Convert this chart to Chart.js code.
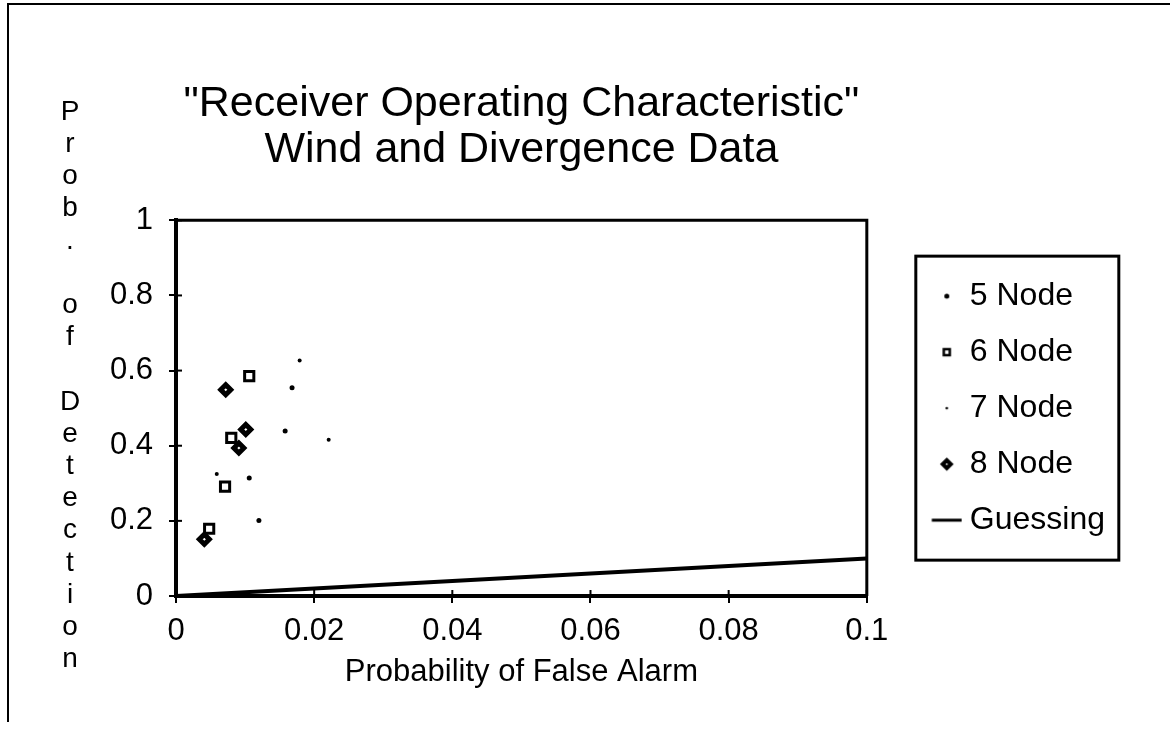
<!DOCTYPE html>
<html>
<head>
<meta charset="utf-8">
<script src="https://cdn.jsdelivr.net/npm/chart.js@4.4.0/dist/chart.umd.min.js"></script>
<style>
  html, body { margin: 0; padding: 0; background: #fff; }
  #wrap { width: 1170px; height: 732px; }
</style>
</head>
<body>
<div id="wrap"><canvas id="rocChart" width="1170" height="732"></canvas></div>
<script>
const titleLines = ['"Receiver Operating Characteristic"', 'Wind and Divergence Data'];
const xTitle = 'Probability of False Alarm';
const yTitle = 'Prob. of Detection';
const seriesNames = ['5 Node', '6 Node', '7 Node', '8 Node', 'Guessing'];

const xTickValues = [0, 0.02, 0.04, 0.06, 0.08, 0.1];
const xTickLabels = ['0', '0.02', '0.04', '0.06', '0.08', '0.1'];
const yTickValues = [0, 0.2, 0.4, 0.6, 0.8, 1];
const yTickLabels = ['0', '0.2', '0.4', '0.6', '0.8', '1'];

// false alarm (x) / detection (y)
const node5X = [0.0168, 0.0158, 0.0106, 0.0120];
const node5Y = [0.554, 0.439, 0.314, 0.201];
const node6X = [0.0106, 0.0080, 0.0071, 0.0048];
const node6Y = [0.585, 0.421, 0.291, 0.179];
const node7X = [0.0179, 0.0221, 0.0059];
const node7Y = [0.627, 0.416, 0.325];
const node8X = [0.0072, 0.0101, 0.0091, 0.0041];
const node8Y = [0.549, 0.443, 0.394, 0.151];
const guessX = [0, 0.1];
const guessY = [0, 0.1];

const FONT = '"Liberation Sans", Arial, Helvetica, sans-serif';

const pts = (xs, ys) => xs.map((x, i) => ({ x: x, y: ys[i] }));

// legend markers: wide canvases so the symbol sits away from the plot,
// next to its label (the legend item box is wide on purpose)
const ICON_W = 80;
const MARK_X = 64.5;
function makeIcon(kind) {
  const cv = document.createElement('canvas');
  cv.width = ICON_W;
  cv.height = 16;
  const c = cv.getContext('2d');
  const cx = MARK_X, cy = 8;
  c.fillStyle = '#000';
  c.strokeStyle = '#000';
  if (kind === 'dot') {
    c.beginPath(); c.arc(cx, cy, 2.5, 0, Math.PI * 2); c.fill();
  } else if (kind === 'tiny') {
    c.beginPath(); c.arc(cx, cy, 1.3, 0, Math.PI * 2); c.fill();
  } else if (kind === 'square') {
    c.lineWidth = 2.5;
    c.strokeRect(cx - 3, cy - 3, 6, 6);
  } else if (kind === 'diamond') {
    c.lineWidth = 4;
    c.beginPath();
    c.moveTo(cx - 4, cy); c.lineTo(cx, cy - 4); c.lineTo(cx + 4, cy); c.lineTo(cx, cy + 4);
    c.closePath(); c.stroke();
  } else {
    c.lineWidth = 3;
    c.beginPath(); c.moveTo(cx - 15, cy); c.lineTo(cx + 15, cy); c.stroke();
  }
  return cv;
}
const legendIcons = ['dot', 'square', 'tiny', 'diamond', 'line'].map(makeIcon);

const decor = {
  id: 'decor',
  beforeDraw(chart) {
    const c = chart.ctx;
    c.save();
    c.fillStyle = '#fff';
    c.fillRect(0, 0, chart.width, chart.height);
    c.restore();
  },
  afterDraw(chart) {
    const c = chart.ctx, a = chart.chartArea;
    const xs = chart.scales.x, ys = chart.scales.y;
    c.save();
    c.strokeStyle = '#000';
    c.fillStyle = '#000';
    // page frame
    c.lineWidth = 2;
    c.beginPath(); c.moveTo(8, 722); c.lineTo(8, 4); c.lineTo(chart.width, 4); c.stroke();
    // top and right of the plot box
    c.lineWidth = 3;
    c.beginPath(); c.moveTo(a.left, a.top); c.lineTo(a.right, a.top); c.lineTo(a.right, a.bottom); c.stroke();
    // inner halves of the tick marks
    c.lineWidth = 2;
    xTickValues.forEach(v => {
      const px = xs.getPixelForValue(v);
      c.beginPath(); c.moveTo(px, a.bottom); c.lineTo(px, a.bottom - 6); c.stroke();
    });
    yTickValues.forEach(v => {
      const py = ys.getPixelForValue(v);
      c.beginPath(); c.moveTo(a.left, py); c.lineTo(a.left + 6, py); c.stroke();
    });
    // stacked y title
    c.font = '28px ' + FONT;
    c.textAlign = 'center';
    c.textBaseline = 'middle';
    [...yTitle].forEach((ch, i) => c.fillText(ch, 70, 112 + i * 32.2));
    // legend frame
    const lg = chart.legend, hb = lg.legendHitBoxes, pad = lg.options.labels.padding;
    const last = hb[hb.length - 1];
    const top = hb[0].top - pad, bottom = last.top + last.height + pad;
    c.lineWidth = 3;
    c.strokeRect(lg.left + 49, top, 203, bottom - top);
    c.restore();
  }
};

const ctx = document.getElementById('rocChart').getContext('2d');

const config = {
  type: 'scatter',
  data: {
    datasets: [
      {
        label: seriesNames[0],
        data: pts(node5X, node5Y),
        pointStyle: 'circle',
        pointRadius: 2.5,
        backgroundColor: '#000',
        borderColor: '#000',
        borderWidth: 0,
      },
      {
        label: seriesNames[1],
        data: pts(node6X, node6Y),
        pointStyle: 'rect',
        pointRadius: 6.5,
        backgroundColor: '#fff',
        borderColor: '#000',
        borderWidth: 3,
      },
      {
        label: seriesNames[2],
        data: pts(node7X, node7Y),
        pointStyle: 'circle',
        pointRadius: 2,
        backgroundColor: '#000',
        borderColor: '#000',
        borderWidth: 0,
      },
      {
        label: seriesNames[3],
        data: pts(node8X, node8Y),
        pointStyle: 'rectRot',
        pointRadius: 5,
        backgroundColor: '#fff',
        borderColor: '#000',
        borderWidth: 5,
      },
      {
        label: seriesNames[4],
        data: pts(guessX, guessY),
        showLine: true,
        pointRadius: 0,
        borderColor: '#000',
        backgroundColor: '#000',
        borderWidth: 4,
        pointStyle: 'line',
      },
    ],
  },
  options: {
    responsive: false,
    animation: false,
    events: [],
    layout: { padding: { left: 20, right: 55, top: 0, bottom: 26 } },
    scales: {
      x: {
        type: 'linear',
        min: 0,
        max: 0.1,
        afterBuildTicks: s => { s.ticks = xTickValues.map(v => ({ value: v })); },
        afterFit: s => { s.height = 110; },
        ticks: {
          callback: (v, i) => xTickLabels[i],
          font: { family: FONT, size: 31 },
          color: '#000',
          padding: 10,
          maxRotation: 0,
          autoSkip: false,
        },
        grid: { drawOnChartArea: false, tickLength: 7, color: '#000', lineWidth: 2 },
        border: { color: '#000', width: 4 },
        title: {
          display: true,
          text: xTitle,
          font: { family: FONT, size: 31 },
          color: '#000',
          padding: { top: 0, bottom: 15 },
        },
      },
      y: {
        type: 'linear',
        min: 0,
        max: 1,
        afterBuildTicks: s => { s.ticks = yTickValues.map(v => ({ value: v })); },
        afterFit: s => { s.width = 156; },
        ticks: {
          callback: (v, i) => yTickLabels[i],
          font: { family: FONT, size: 31 },
          color: '#000',
          padding: 16,
        },
        grid: { drawOnChartArea: false, tickLength: 7, color: '#000', lineWidth: 2 },
        border: { color: '#000', width: 4 },
      },
    },
    plugins: {
      tooltip: { enabled: false },
      title: {
        display: true,
        text: titleLines,
        fullSize: false,
        color: '#000',
        font: { family: FONT, size: 43, weight: 'normal', lineHeight: 1.05 },
        padding: { top: 82, bottom: 48 },
      },
      legend: {
        position: 'right',
        fullSize: false,
        align: 'center',
        labels: {
          usePointStyle: true,
          pointStyleWidth: 63,
          padding: 24,
          color: '#000',
          font: { family: FONT, size: 32 },
          generateLabels(chart) {
            const items = Chart.defaults.plugins.legend.labels.generateLabels(chart);
            items.forEach((it, i) => { it.pointStyle = legendIcons[i]; });
            return items;
          },
        },
      },
    },
  },
  plugins: [decor],
};

let rocChart = new Chart(ctx, config);
</script>
</body>
</html>
